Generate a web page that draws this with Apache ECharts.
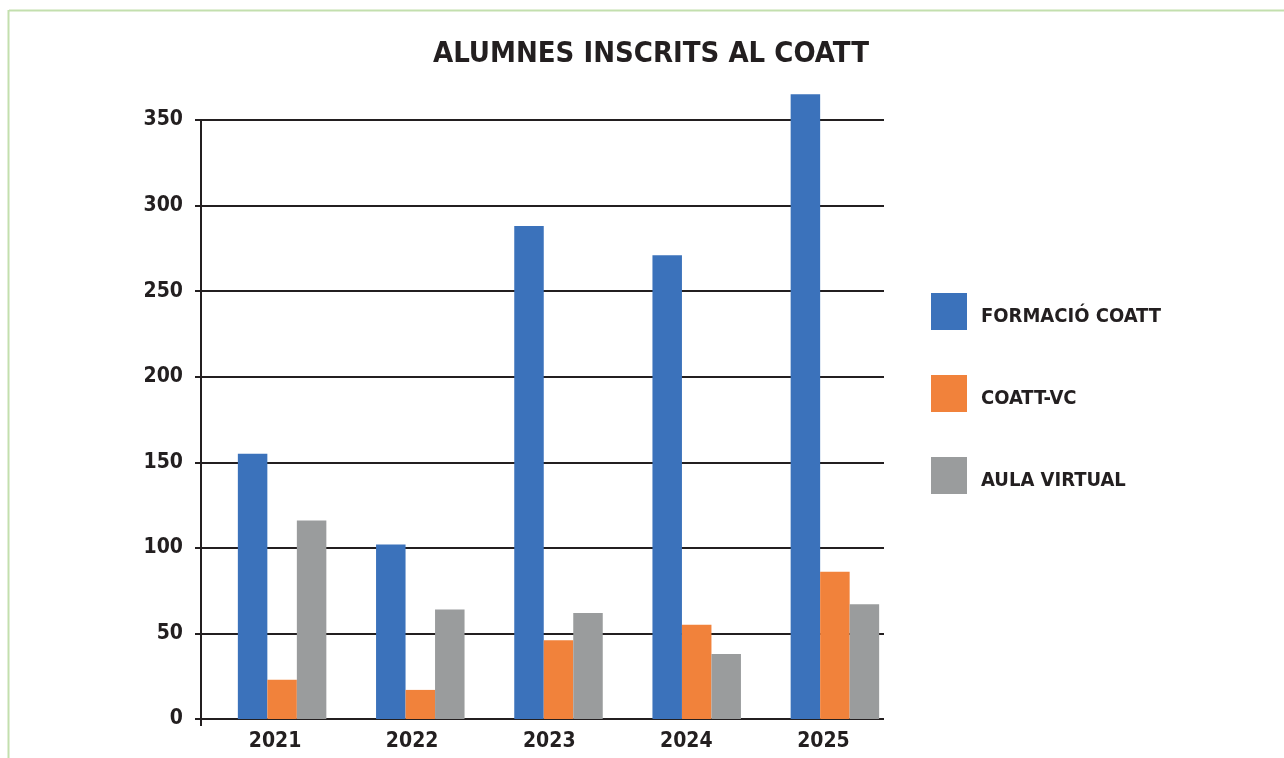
<!DOCTYPE html>
<html>
<head>
<meta charset="utf-8">
<script src="https://cdn.jsdelivr.net/npm/echarts@6/dist/echarts.min.js"></script>
<style>
  html, body { margin: 0; padding: 0; background: #ffffff; }
  #chart { width: 1284px; height: 758px; }
</style>
</head>
<body>
<div id="chart"></div>
<script>
const titleText = 'ALUMNES INSCRITS AL COATT';
const categories = ['2021', '2022', '2023', '2024', '2025'];
const seriesNames = ['FORMACIÓ COATT', 'COATT-VC', 'AULA VIRTUAL'];
const formacioCoatt = [155, 102, 288, 271, 365];
const coattVc = [23, 17, 46, 55, 86];
const aulaVirtual = [116, 64, 62, 38, 67];
const yTicks = [0, 50, 100, 150, 200, 250, 300, 350];

const FONT = '"Liberation Sans Narrow", "DejaVu Sans Condensed", "Roboto", sans-serif';
const INK = '#231F20';
const colors = ['#3B72BB', '#F1823B', '#9A9C9D'];

const chart = echarts.init(document.getElementById('chart'), null, { renderer: 'canvas' });

const yMin = yTicks[0];
const yMax = yTicks[yTicks.length - 1];
const yStep = yTicks[1] - yTicks[0];

const option = {
  backgroundColor: '#ffffff',
  animation: false,
  title: {
    text: titleText,
    left: 651,
    top: 40,
    padding: 0,
    textAlign: 'center',
    textStyle: { fontFamily: FONT, fontWeight: 'bold', fontSize: 29, color: INK }
  },
  legend: {
    orient: 'vertical',
    left: 931,
    top: 293,
    padding: 0,
    itemWidth: 36,
    itemHeight: 37,
    itemGap: 45,
    icon: 'rect',
    data: seriesNames,
    formatter: function (name) { return '{t|' + name + '}'; },
    textStyle: {
      fontFamily: FONT, fontWeight: 'bold', fontSize: 20, color: INK,
      rich: { t: { fontFamily: FONT, fontWeight: 'bold', fontSize: 20, color: INK, padding: [10, 0, 0, 9] } }
    }
  },
  graphic: [
    { type: 'line', shape: { x1: 9, y1: 10.5, x2: 1284, y2: 10.5 }, style: { stroke: '#C3DFAE', lineWidth: 2 } },
    { type: 'line', shape: { x1: 8.5, y1: 10, x2: 8.5, y2: 758 }, style: { stroke: '#C3DFAE', lineWidth: 2 } },
    { type: 'line', shape: { x1: 201, y1: 719, x2: 201, y2: 726 }, style: { stroke: INK, lineWidth: 2 } }
  ],
  grid: [
    { left: 201, right: 400, top: 120, bottom: 39 },
    { left: 213, width: 691, top: 120, bottom: 39 },
    { left: 206.5, width: 685.5, top: 120, bottom: 39 }
  ],
  xAxis: [
    { type: 'category', gridIndex: 0, data: categories, show: false },
    { type: 'category', gridIndex: 1, data: categories, show: false },
    {
      type: 'category', gridIndex: 2, data: categories,
      axisLine: { show: false }, axisTick: { show: false },
      axisLabel: { fontFamily: FONT, fontWeight: 'bold', fontSize: 21, color: INK, margin: 12 }
    }
  ],
  yAxis: [
    {
      type: 'value', gridIndex: 0, min: yMin, max: yMax, interval: yStep,
      axisLine: { show: true, lineStyle: { color: INK, width: 2 } },
      axisTick: { show: true, length: 6, lineStyle: { color: INK, width: 2 } },
      splitLine: { show: true, lineStyle: { color: INK, width: 2 } },
      axisLabel: { fontFamily: FONT, fontWeight: 'bold', fontSize: 21, color: INK, margin: 18 }
    },
    { type: 'value', gridIndex: 1, min: yMin, max: yMax, interval: yStep, show: false, splitLine: { show: false } },
    { type: 'value', gridIndex: 2, min: yMin, max: yMax, interval: yStep, show: false, splitLine: { show: false } }
  ],
  series: [
    { name: seriesNames[0], type: 'bar', xAxisIndex: 1, yAxisIndex: 1, data: formacioCoatt, barWidth: 29.5, barGap: '0%', clip: false, itemStyle: { color: colors[0] } },
    { name: seriesNames[1], type: 'bar', xAxisIndex: 1, yAxisIndex: 1, data: coattVc, barWidth: 29.5, barGap: '0%', clip: false, itemStyle: { color: colors[1] } },
    { name: seriesNames[2], type: 'bar', xAxisIndex: 1, yAxisIndex: 1, data: aulaVirtual, barWidth: 29.5, barGap: '0%', clip: false, itemStyle: { color: colors[2] } }
  ]
};

chart.setOption(option);
</script>
</body>
</html>
